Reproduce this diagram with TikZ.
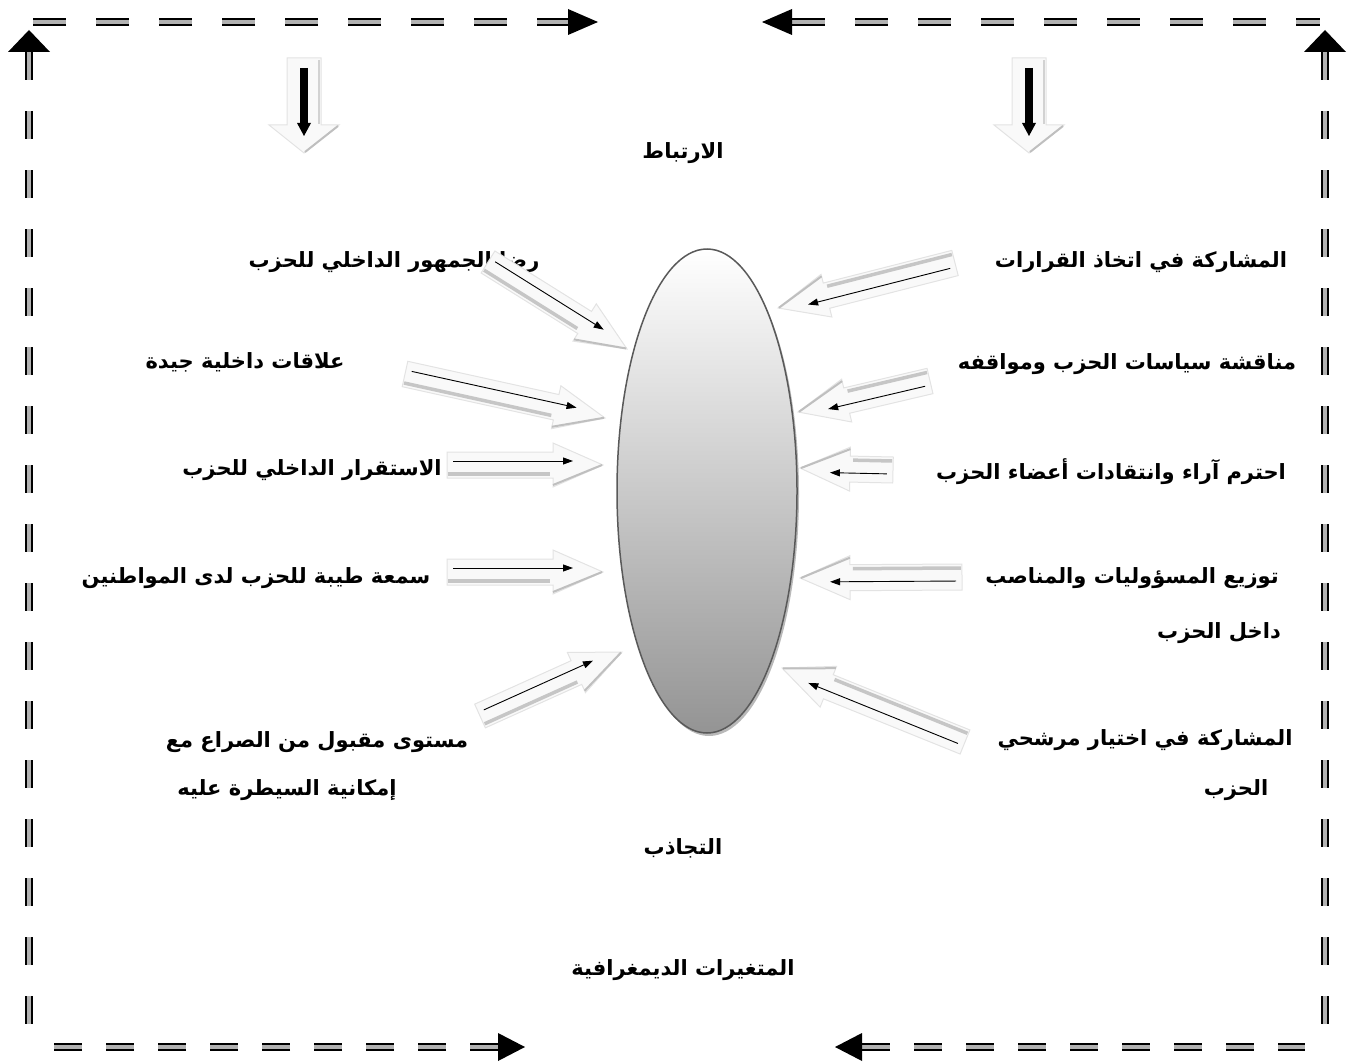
\documentclass[tikz,border=0pt]{standalone}
\usepackage{fontspec}
\newfontfamily\arabicfont[Script=Arabic]{DejaVu Sans}
\TeXXeTstate=1
\usetikzlibrary{shapes.geometric,shadows,arrows.meta}

\tikzset{
  lbl/.style={font=\arabicfont\bfseries\fontsize{21}{25}\selectfont, inner sep=0pt, text=black},
  frameline/.style={line width=2pt, double=gray!60, double distance=3.5pt, dash pattern=on 33pt off 30pt},
  framevline/.style={frameline, dash pattern=on 28pt off 31pt},
  blockfill/.style={fill=gray!5, draw=gray!22, line width=1pt},
  blockshade/.style={draw=gray!45, line width=3.5pt},
  blockedge/.style={draw=gray!50, line width=2pt},
  thinarr/.style={draw=black, line width=0.9pt, -{Triangle[length=10pt,width=7pt]}},
}

\newcommand\fatarr[2]{%
  \pgfpointdiff{\pgfpointanchor{#1}{center}}{\pgfpointanchor{#2}{center}}%
  \pgfgetlastxy{\fdx}{\fdy}%
  \pgfmathsetmacro\fang{atan2(\fdy,\fdx)}%
  \pgfmathsetmacro\flen{veclen(\fdx,\fdy)}%
  \pgfmathsetmacro\fbase{\flen-50}%
  \begin{scope}[shift={(#1)}, x=1pt, y=1pt, rotate=\fang]
    \filldraw[blockfill] (0,-13) -- (\fbase,-13) -- (\fbase,-22) -- (\flen,0) -- (\fbase,22) -- (\fbase,13) -- (0,13) -- cycle;
    \draw[blockshade] (1,-9) -- (\fbase-3,-9);
    \draw[blockedge] (\fbase,-20) -- (\flen-1,0);
    \draw[thinarr] (6,4) -- (\fbase+20,4);
  \end{scope}}

\newcommand\downarr[1]{%
  \begin{scope}[shift={(#1)}]
    \filldraw[blockfill] (-17,58) -- (17,58) -- (17,125) -- (35,125) -- (0,153) -- (-35,125) -- (-17,125) -- cycle;
    \draw[draw=gray!35, line width=2pt] (15,60) -- (15,124);
    \draw[blockedge] (34,126) -- (1,152);
    \draw[line width=8pt] (0,68) -- (0,126);
    \fill (-7,123) -- (7,123) -- (0,136) -- cycle;
  \end{scope}}

\begin{document}
\begin{tikzpicture}[x=1pt, y=-1pt]
\useasboundingbox (0,0) rectangle (1349,1062);

% ---------- frame ----------
\coordinate (tlT) at (598,22);  \coordinate (tlB) at (570,22);  \coordinate (tlE) at (28,22);
\coordinate (trT) at (762,22);  \coordinate (trB) at (792,22);  \coordinate (trE) at (1320,22);
\coordinate (lvT) at (29,30);   \coordinate (lvB) at (29,52);   \coordinate (lvE) at (29,1035);
\coordinate (rvT) at (1325,30); \coordinate (rvB) at (1325,52); \coordinate (rvE) at (1325,1032);
\coordinate (blT) at (525,1047); \coordinate (blB) at (498,1047); \coordinate (blE) at (50,1047);
\coordinate (brT) at (835,1047); \coordinate (brB) at (862,1047); \coordinate (brE) at (1305,1047);

\draw[frameline] (tlB) -- (tlE);
\draw[frameline] (trB) -- (trE);
\draw[framevline] (lvB) -- (lvE);
\draw[framevline] (rvB) -- (rvE);
\draw[frameline, dash pattern=on 28pt off 24pt] (blB) -- (blE);
\draw[frameline, dash pattern=on 28pt off 24pt] (brB) -- (brE);

\fill (tlT) -- ++(-30,-13) -- ++(0,26) -- cycle;
\fill (trT) -- ++(30,-13) -- ++(0,26) -- cycle;
\fill (lvT) -- ++(-21,22) -- ++(42,0) -- cycle;
\fill (rvT) -- ++(-21,22) -- ++(42,0) -- cycle;
\fill (blT) -- ++(-27,-14) -- ++(0,28) -- cycle;
\fill (brT) -- ++(27,-14) -- ++(0,28) -- cycle;

% ---------- down arrows ----------
\coordinate (dA) at (304,0);
\coordinate (dB) at (1029,0);
\downarr{dA}
\downarr{dB}

% ---------- ellipse ----------
\node[ellipse, minimum width=180pt, minimum height=484pt, draw=black!65, line width=1.5pt,
      top color=white, bottom color=black!42,
      drop shadow={shadow xshift=2pt, shadow yshift=-3pt, fill=gray!55, opacity=1}] (ell) at (707,491) {};

% ---------- texts ----------
\node[lbl] (ta) at (683,153) {\beginR الارتباط\endR};
\node[lbl] (tb) at (683,848) {\beginR التجاذب\endR};
\node[lbl] (tc) at (683,970) {\beginR المتغيرات الديمغرافية\endR};

\node[lbl] (l1) at (394,262) {\beginR رضا الجمهور الداخلي للحزب\endR};
\node[lbl] (l2) at (245,362) {\beginR علاقات داخلية جيدة\endR};
\node[lbl] (l3) at (312,470) {\beginR الاستقرار الداخلي للحزب\endR};
\node[lbl] (l4) at (256,578) {\beginR سمعة طيبة للحزب لدى المواطنين\endR};
\node[lbl] (l5) at (317,742) {\beginR مستوى مقبول من الصراع مع\endR};
\node[lbl] (l5b) at (287,790) {\beginR إمكانية السيطرة عليه\endR};

\node[lbl] (r1) at (1141,262) {\beginR المشاركة في اتخاذ القرارات\endR};
\node[lbl] (r2) at (1127,364) {\beginR مناقشة سياسات الحزب ومواقفه\endR};
\node[lbl] (r3) at (1111,472) {\beginR احترم آراء وانتقادات أعضاء الحزب\endR};
\node[lbl] (r4) at (1132,578) {\beginR توزيع المسؤوليات والمناصب\endR};
\node[lbl] (r4b) at (1219,633) {\beginR داخل الحزب\endR};
\node[lbl] (r5) at (1145,740) {\beginR المشاركة في اختيار مرشحي\endR};
\node[lbl] (r5b) at (1236,790) {\beginR الحزب\endR};

% ---------- fat arrows ----------
\coordinate (a1s) at (488,262); \coordinate (a1e) at (627,349);
\coordinate (a2s) at (405,374); \coordinate (a2e) at (605,418);
\coordinate (a3s) at (447,465); \coordinate (a3e) at (603,465);
\coordinate (a4s) at (447,572); \coordinate (a4e) at (603,572);
\coordinate (a5s) at (480,716); \coordinate (a5e) at (622,652);
\coordinate (b1s) at (955,263); \coordinate (b1e) at (778,308);
\coordinate (b2s) at (930,381); \coordinate (b2e) at (798,412);
\coordinate (b3s) at (893,470); \coordinate (b3e) at (800,468);
\coordinate (b4s) at (962,577); \coordinate (b4e) at (800,578);
\coordinate (b5s) at (965,742); \coordinate (b5e) at (782,668);

\fatarr{a1s}{a1e}
\fatarr{a2s}{a2e}
\fatarr{a3s}{a3e}
\fatarr{a4s}{a4e}
\fatarr{a5s}{a5e}
\fatarr{b1s}{b1e}
\fatarr{b2s}{b2e}
\fatarr{b3s}{b3e}
\fatarr{b4s}{b4e}
\fatarr{b5s}{b5e}

\end{tikzpicture}
\end{document}
